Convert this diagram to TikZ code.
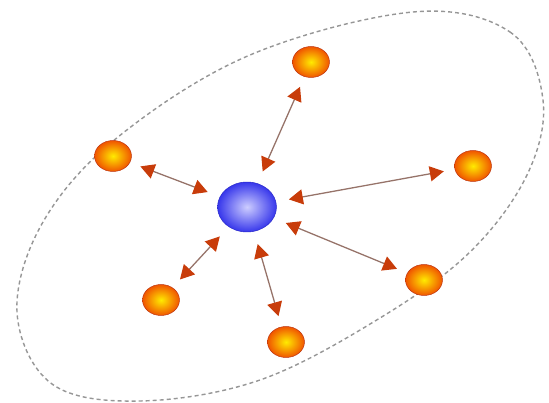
\documentclass[tikz,border=0pt]{standalone}
\usetikzlibrary{arrows.meta,shapes.geometric}
\definecolor{ringcol}{RGB}{150,150,150}
\definecolor{linkcol}{RGB}{150,115,105}
\definecolor{tipcol}{RGB}{200,60,10}
\definecolor{peerrim}{RGB}{185,50,15}
\definecolor{peerout}{RGB}{240,85,0}
\definecolor{peerin}{RGB}{255,235,0}
\definecolor{hubrim}{RGB}{40,40,200}
\definecolor{hubout}{RGB}{55,55,235}
\definecolor{hubin}{RGB}{205,205,255}
\tikzset{
  peer/.style={ellipse, draw=peerrim, thin, inner sep=0pt,
    minimum width=1.11cm, minimum height=0.93cm,
    shading=radial, inner color=peerin, outer color=peerout},
  hub/.style={ellipse, draw=hubrim, thin, inner sep=0pt,
    minimum width=1.77cm, minimum height=1.5cm,
    shading=radial, inner color=hubin, outer color=hubout},
  link/.style={linkcol, line width=1.1pt,
    {Triangle[length=0.42cm, width=0.45cm, color=tipcol]}-{Triangle[length=0.42cm, width=0.45cm, color=tipcol]},
    shorten <=0.39cm, shorten >=0.33cm}
}

\begin{document}
\begin{tikzpicture}[x=0.03cm, y=-0.03cm]

  \useasboundingbox (0,0) rectangle (549,403);

  % Dashed boundary.
  \draw[ringcol, line width=1.2pt, dash pattern=on 3.4pt off 2.6pt]
    plot[smooth cycle, tension=0.6] coordinates {
      (413,12) (510,32) (543,100) (527,175) (470,252) (380,318)
      (260,380) (140,401) (52,384) (17,312) (43,222) (118,137)
      (250,55)};

  % Central node.
  \node[hub] (hub) at (247,207) {};

  % Surrounding nodes.
  \node[peer] (peer1) at (311,62)  {};
  \node[peer] (peer2) at (113,156) {};
  \node[peer] (peer3) at (473,166) {};
  \node[peer] (peer4) at (424,280) {};
  \node[peer] (peer5) at (286,342) {};
  \node[peer] (peer6) at (161,300) {};

  % Two-way links.
  \foreach \p in {1,...,6} {
    \draw[link] (hub) -- (peer\p);
  }

\end{tikzpicture}
\end{document}
